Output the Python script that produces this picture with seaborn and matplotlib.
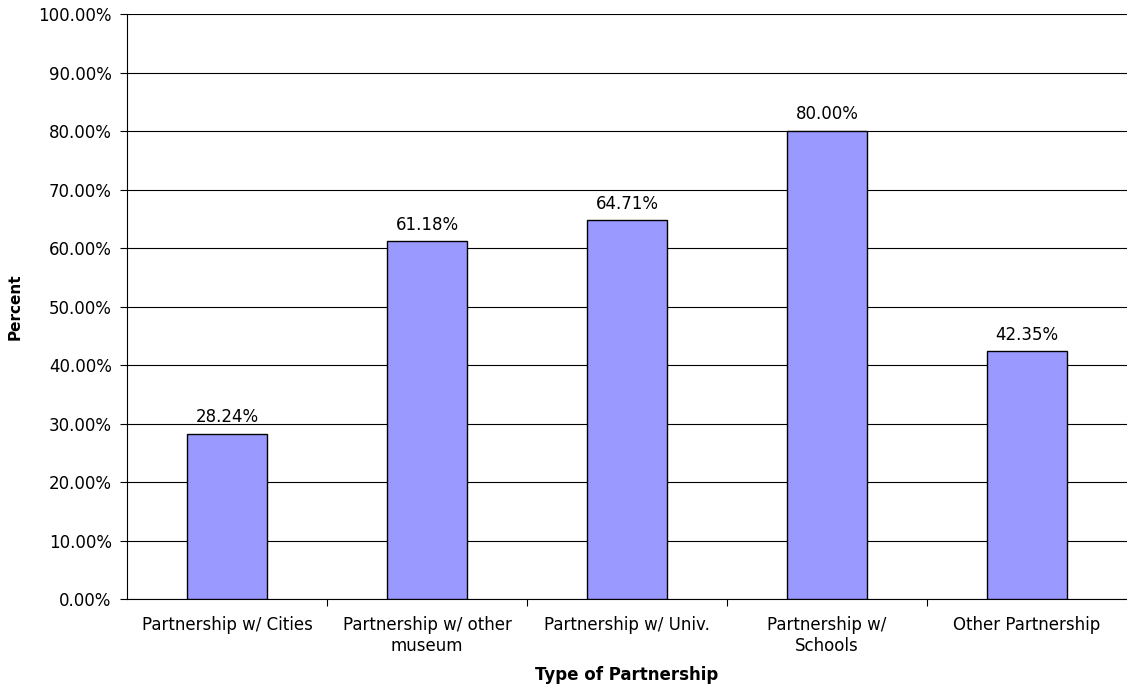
import matplotlib
matplotlib.use("Agg")
import matplotlib.pyplot as plt
import seaborn as sns
import pandas as pd
from matplotlib.ticker import FuncFormatter, FixedLocator

# data
categories = ["Partnership w/ Cities", "Partnership w/ other\nmuseum", "Partnership w/ Univ.",
              "Partnership w/\nSchools", "Other Partnership"]
percent = [28.24, 61.18, 64.71, 80.00, 42.35]

df = pd.DataFrame({"type": categories, "pct": percent})

sns.set_style("white")
plt.rcParams["font.family"] = ["DejaVu Sans"]
plt.rcParams["text.color"] = "black"
plt.rcParams["axes.labelcolor"] = "black"
plt.rcParams["xtick.color"] = "black"
plt.rcParams["ytick.color"] = "black"

fig = plt.figure(figsize=(11.27, 6.87), dpi=100)
ax = fig.add_axes([0.1127, 0.128, 0.8873, 0.8516])

sns.barplot(data=df, x="type", y="pct", color="#9999FF", edgecolor="black",
            linewidth=1, width=0.4, saturation=1, ax=ax, zorder=3)

# value labels above bars
for i, v in enumerate(percent):
    ax.text(i, v + 1.3, f"{v:.2f}%", ha="center", va="bottom", fontsize=12)

ax.set_ylim(0, 100)
ax.set_xlim(-0.5, 4.5)
ax.set_yticks(range(0, 101, 10))
ax.yaxis.set_major_formatter(FuncFormatter(lambda v, p: f"{v:.2f}%"))
ax.yaxis.grid(True, color="black", linewidth=0.8, zorder=0)
ax.set_axisbelow(True)

ax.tick_params(axis="x", which="major", length=0, pad=12, labelsize=12)
ax.xaxis.set_minor_locator(FixedLocator([0.5, 1.5, 2.5, 3.5]))
ax.tick_params(axis="x", which="minor", length=5, width=0.8, direction="out", bottom=True)
ax.tick_params(axis="y", length=5, width=0.8, direction="out", left=True, labelsize=12, pad=6)

for s in ["top", "right"]:
    ax.spines[s].set_visible(False)
for s in ["left", "bottom"]:
    ax.spines[s].set_color("black")
    ax.spines[s].set_linewidth(0.8)

ax.set_xlabel("Type of Partnership", fontweight="bold", fontsize=12, labelpad=8)
ax.set_ylabel("Percent", fontweight="bold", fontsize=11, labelpad=11)

fig.savefig("out.png", dpi=100)
